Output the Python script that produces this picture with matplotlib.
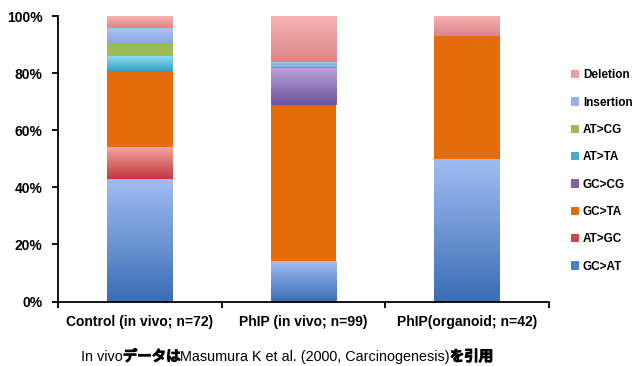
import numpy as np
import matplotlib
matplotlib.use("Agg")
import matplotlib.pyplot as plt
import matplotlib.patheffects as pe
from matplotlib.colors import LinearSegmentedColormap
from matplotlib.patches import Patch

# ---------------------------------------------------------------------------
# Data (mutation counts per group, stacked bottom -> top)
# ---------------------------------------------------------------------------
groups = ["Control (in vivo; n=72)", "PhIP (in vivo; n=99)", "PhIP(organoid; n=42)"]
group_n = [72, 99, 42]

mut_types = ["GC>AT", "AT>GC", "GC>TA", "GC>CG", "AT>TA", "AT>CG", "Insertion", "Deletion"]
gc_at = [31, 14, 21]
at_gc = [8, 0, 0]
gc_ta = [19, 54, 18]
gc_cg = [0, 13, 0]
at_ta = [4, 1, 0]
at_cg = [3, 0, 0]
insertion = [4, 1, 0]
deletion = [3, 16, 3]
counts = [gc_at, at_gc, gc_ta, gc_cg, at_ta, at_cg, insertion, deletion]

y_ticks = [0, 20, 40, 60, 80, 100]
y_tick_labels = ["0%", "20%", "40%", "60%", "80%", "100%"]
# footnote pieces: (text, is_japanese)
footnote = [("In vivo", False), ("データは", True),
            ("Masumura K et al. (2000, Carcinogenesis)", False), ("を引用", True)]

# legend colour, gradient (bottom, top) or None for flat fill
styles = {
    "GC>AT": ("#4a7fcb", ("#3a6db5", "#a0bdf2")),
    "AT>GC": ("#d0474a", ("#c0393b", "#f4a3a3")),
    "GC>TA": ("#e46c0a", None),
    "GC>CG": ("#8064a2", ("#6e519c", "#b8a6db")),
    "AT>TA": ("#4bacc6", ("#2f9ec3", "#90dbf2")),
    "AT>CG": ("#9bbb59", None),
    "Insertion": ("#95b3e8", ("#8aa6de", "#a9c4f3")),
    "Deletion": ("#eba0a0", ("#dd8585", "#f8b4b4")),
}

plt.rcParams["font.family"] = ["Liberation Sans", "Noto Sans CJK JP", "DejaVu Sans"]
plt.rcParams["font.weight"] = "bold"

fig = plt.figure(figsize=(6.33, 3.66), dpi=100)
ax = fig.add_axes([0.0916, 0.176, 0.867 - 0.0916, 0.956 - 0.176])

x = np.arange(len(groups))
width = 0.40
n = np.array(group_n, dtype=float)
bottom = np.zeros(len(groups))
grad = np.linspace(0, 1, 256).reshape(-1, 1)

for name, vals in zip(mut_types, counts):
    pct = np.array(vals) / n * 100
    solid, gradient = styles[name]
    bars = ax.bar(x, pct, width, bottom=bottom, color=solid, edgecolor="none", zorder=2)
    if gradient is not None:
        # vertical gradient fill clipped to each bar segment
        cmap = LinearSegmentedColormap.from_list(name, list(gradient))
        for rect in bars:
            if rect.get_height() <= 0:
                continue
            x0, y0 = rect.get_x(), rect.get_y()
            im = ax.imshow(grad, extent=(x0, x0 + rect.get_width(), y0, y0 + rect.get_height()),
                           origin="lower", cmap=cmap, aspect="auto", zorder=2.1,
                           interpolation="bilinear")
            im.set_clip_path(rect)
    bottom += pct

ax.set_xlim(-0.5, 2.5)
ax.set_ylim(0, 100)
ax.set_aspect("auto")

ax.set_yticks(y_ticks)
ax.set_yticklabels(y_tick_labels, fontsize=10, fontweight="bold")
ax.set_xticks([-0.5, 0.5, 1.5, 2.5])
ax.set_xticklabels([])
ax.set_xticks(x, minor=True)
ax.set_xticklabels(groups, minor=True, fontsize=10, fontweight="bold")
ax.tick_params(axis="y", length=4, width=1.3, pad=7)
ax.tick_params(axis="x", which="major", length=4, width=1.3, direction="out")
ax.tick_params(axis="x", which="minor", length=0, pad=10)

for side in ["top", "right"]:
    ax.spines[side].set_visible(False)
for side in ["left", "bottom"]:
    ax.spines[side].set_linewidth(1.3)

handles = [Patch(facecolor=styles[m][0], edgecolor="none") for m in mut_types][::-1]
fig.legend(handles, mut_types[::-1], loc="center left", bbox_to_anchor=(0.902, 0.533),
           frameon=False, handlelength=0.7, handleheight=0.7,
           handletextpad=0.3, labelspacing=1.3, borderpad=0, borderaxespad=0,
           prop={"weight": "bold", "size": 8.5})

# footnote: regular latin text, heavy japanese text, chained left to right
prev = None
for txt, jp in footnote:
    kw = dict(fontsize=10.4, fontweight="normal", va="center", ha="left")
    if jp:
        kw["path_effects"] = [pe.withStroke(linewidth=1.1, foreground="black")]
    if prev is None:
        prev = fig.text(0.128, 0.025, txt, **kw)
    else:
        prev = ax.annotate(txt, xy=(1, 0.5), xycoords=prev, annotation_clip=False, **kw)

fig.savefig("out.png", dpi=100)
